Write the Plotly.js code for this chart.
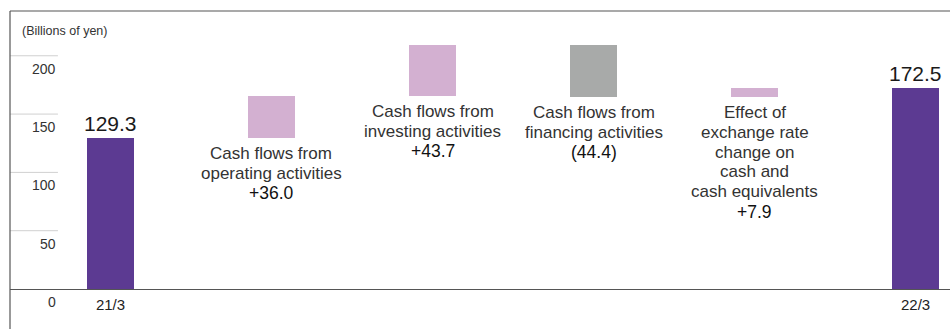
<!DOCTYPE html>
<html>
<head>
<meta charset="utf-8">
<script src="https://cdn.plot.ly/plotly-3.0.1.min.js"></script>
<style>
  html, body { margin: 0; padding: 0; background: #fff; }
  #chart { width: 950px; height: 329px; }
</style>
</head>
<body>
<div id="chart"></div>
<script>
// ---- data ----
const categories = ["21/3", "Operating", "Investing", "Financing", "FX effect", "22/3"];
const tickLabels = ["21/3", "", "", "", "", "22/3"];
const measures = ["absolute", "relative", "relative", "relative", "relative", "total"];
const values = [129.3, 36.0, 43.7, -44.4, 7.9, 172.5];
const stepLabels = [
  [],
  ["Cash flows from", "operating activities"],
  ["Cash flows from", "investing activities"],
  ["Cash flows from", "financing activities"],
  ["Effect of", "exchange rate", "change on", "cash and", "cash equivalents"],
  []
];
const yTicks = [0, 50, 100, 150, 200];
const unitLabel = "(Billions of yen)";

// ---- styles ----
const PURPLE = "#5C3A92", PINK = "#D3B0D1", GRAY = "#A8AAA9";
const FONT = "'Liberation Sans', Arial, Helvetica, sans-serif";
const LINE_H = 19.8, FIRST_OFF = 15.5;

// build bases from running total
const xs = categories.map((_, i) => i);
const bases = [], heights = [], colors = [];
let running = 0;
values.forEach((v, i) => {
  if (measures[i] === "absolute" || measures[i] === "total") {
    bases.push(0); heights.push(v); colors.push(PURPLE); running = v;
  } else {
    bases.push(v >= 0 ? running : running + v);
    heights.push(Math.abs(v));
    colors.push(v >= 0 ? PINK : GRAY);
    running += v;
  }
});

const trace = {
  type: "bar",
  x: xs,
  y: heights,
  base: bases,
  width: 0.292,
  marker: { color: colors, line: { width: 0 } },
  hoverinfo: "skip"
};

const fmt = v => v >= 0 ? "+" + v.toFixed(1) : "(" + Math.abs(v).toFixed(1) + ")";

const annotations = [];
values.forEach((v, i) => {
  if (measures[i] === "absolute" || measures[i] === "total") {
    annotations.push({
      x: xs[i], y: v, xref: "x", yref: "y",
      text: v.toFixed(1), showarrow: false,
      yanchor: "bottom", yshift: 1,
      font: { family: FONT, size: 21, color: "#1a1a1a" }
    });
  } else {
    const lines = stepLabels[i].concat([fmt(v)]);
    lines.forEach((t, k) => {
      const isVal = k === lines.length - 1;
      annotations.push({
        x: xs[i], y: bases[i], xref: "x", yref: "y",
        text: t, showarrow: false, yanchor: "middle", xanchor: "center",
        yshift: -(FIRST_OFF + k * LINE_H),
        font: { family: FONT, size: isVal ? 17.5 : 17, color: isVal ? "#111" : "#333" }
      });
    });
  }
});
// y tick labels, placed under each grid line
yTicks.forEach(t => {
  annotations.push({
    x: 0.051, xref: "paper", y: t, yref: "y",
    text: String(t), showarrow: false, xanchor: "right", yanchor: "middle",
    yshift: -13,
    font: { family: FONT, size: 14, color: "#333" }
  });
});
annotations.push({
  x: 0.0105, xref: "paper", y: 1, yref: "paper",
  text: unitLabel, showarrow: false, xanchor: "left", yanchor: "middle",
  yshift: -20,
  font: { family: FONT, size: 12.5, color: "#333" }
});

const shapes = [];
yTicks.filter(t => t > 0).forEach(t => {
  shapes.push({
    type: "line", xref: "paper", yref: "y",
    x0: 0, x1: 0.051, y0: t, y1: t,
    line: { color: "#d0d0d0", width: 1 }
  });
});
// frame: top line, left line
shapes.push({ type: "line", xref: "paper", yref: "paper", x0: 0, x1: 1, y0: 1, y1: 1,
  line: { color: "#555", width: 1.2 } });
shapes.push({ type: "line", xref: "paper", yref: "paper", x0: 0, x1: 0, y0: -0.145, y1: 1,
  line: { color: "#555", width: 1.2 } });

const layout = {
  width: 950, height: 329,
  margin: { l: 10, r: 0, t: 11, b: 40 },
  paper_bgcolor: "#fff", plot_bgcolor: "#fff",
  showlegend: false,
  bargap: 0,
  xaxis: {
    range: [-0.624, 5.214],
    tickvals: xs, ticktext: tickLabels,
    showgrid: false, zeroline: false,
    showline: true, linecolor: "#555", linewidth: 1.2,
    ticks: "", ticklabelstandoff: 2,
    tickfont: { family: FONT, size: 15, color: "#222" },
    fixedrange: true
  },
  yaxis: {
    range: [0, 238.4],
    showgrid: false, zeroline: false, showline: false,
    showticklabels: false, ticks: "",
    fixedrange: true
  },
  annotations: annotations,
  shapes: shapes
};

Plotly.newPlot("chart", [trace], layout, { displayModeBar: false, staticPlot: true });
</script>
</body>
</html>
